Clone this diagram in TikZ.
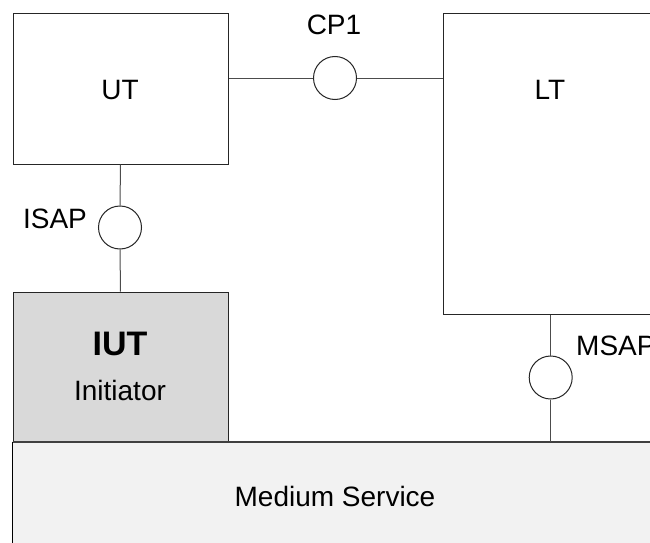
\documentclass[tikz,border=0pt]{standalone}
\usepackage{fontspec}
\setmainfont{Liberation Sans}
\begin{document}
\begin{tikzpicture}[x=1pt,y=-1pt,
  box/.style={draw=black!85, line width=1pt, inner sep=0pt, anchor=north west},
  sap/.style={circle, draw=black!85, fill=white, line width=1pt, minimum size=43pt, inner sep=0pt},
  conn/.style={draw=black!70, line width=1pt},
  lbl/.style={font=\fontsize{28}{32}\selectfont, inner sep=0pt, anchor=base},
  lblw/.style={font=\fontsize{28}{32}\selectfont, inner sep=0pt, anchor=base west}]
\useasboundingbox (0,0) rectangle (650,543);
\clip (0,0) rectangle (650,543);
% medium service band
\node[box, draw=none, fill=black!5, minimum width=700pt, minimum height=150pt] (band) at (12.5,441.7) {};
\draw[black, line width=1.2pt] (12.5,441.7) -- (12.5,560);
% IUT box
\node[box, fill=black!15, minimum width=215pt, minimum height=150pt] (iut) at (12.5,291.7) {};
\draw[black!75, line width=1.6pt] (12.5,441.7) -- (660,441.7);
% UT box
\node[box, minimum width=215pt, minimum height=150pt] (ut) at (12.5,13.5) {};
% LT box
\node[box, minimum width=257pt, minimum height=300pt] (lt) at (443,13.5) {};
% SAP circles
\node[sap] (cp1) at (335,78) {};
\node[sap] (isap) at (120,227.5) {};
\node[sap] (msap) at (550.7,377.5) {};
% connectors
\draw[conn] (ut.east |- cp1.west) -- (cp1.west);
\draw[conn] (cp1.east) -- (cp1.east -| lt.west);
\draw[conn] (ut.south) -- (isap.north);
\draw[conn] (isap.south) -- (iut.north);
\draw[conn] (msap.north |- lt.south) -- (msap.north);
\draw[conn] (msap.south) -- (msap.south |- band.north);
% labels
\node[lbl] (utl) at (120,99) {UT};
\node[lbl] (ltl) at (550,99) {LT};
\node[lbl] (cp1l) at (334,35) {CP1};
\node[lbl] (isapl) at (55,228) {ISAP};
\node[lblw] (msapl) at (576,355) {MSAP};
\node[inner sep=0pt, anchor=base, font=\fontsize{34}{38}\selectfont\bfseries] (iutl) at (120,355) {IUT};
\node[lbl] (initl) at (120,400) {Initiator};
\node[lbl] (msl) at (335,506.7) {Medium Service};
\end{tikzpicture}
\end{document}
